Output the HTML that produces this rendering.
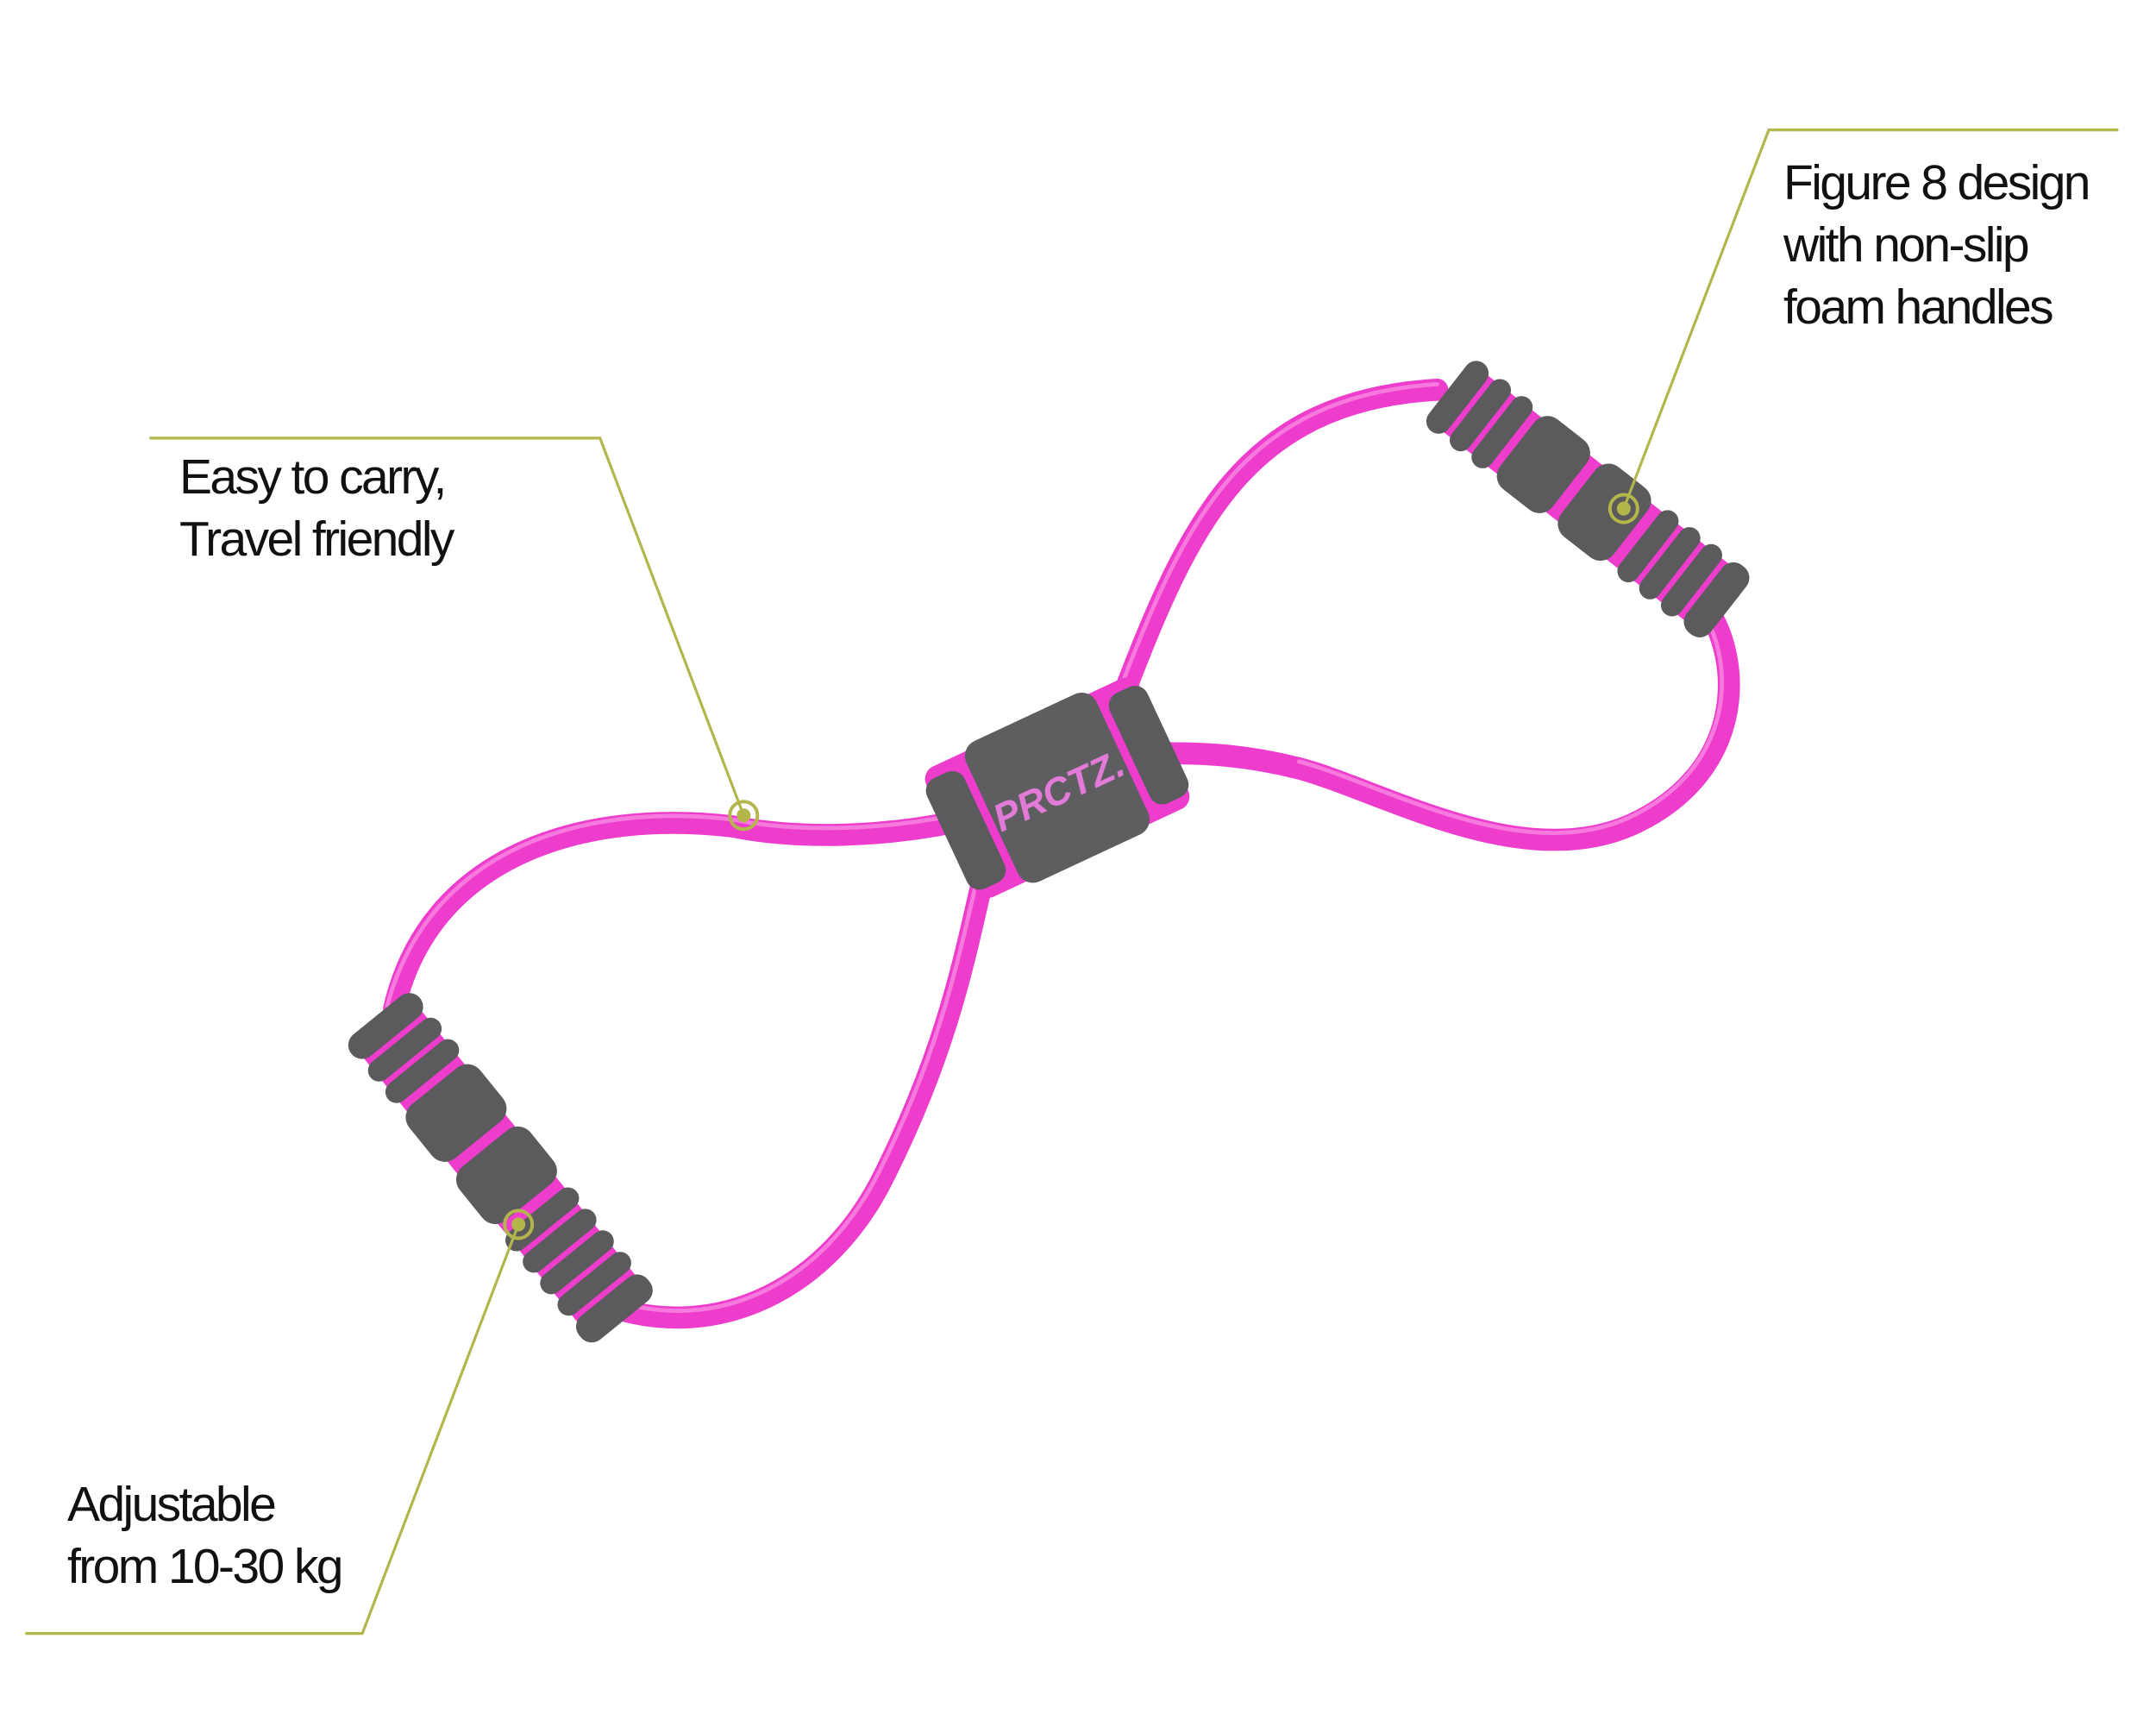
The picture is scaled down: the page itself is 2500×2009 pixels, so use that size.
<!DOCTYPE html>
<html><head><meta charset="utf-8"><style>
html,body{margin:0;padding:0;background:#fff}
.t{position:absolute;font-family:"Liberation Sans",sans-serif;font-size:57px;color:#111;line-height:72px;letter-spacing:-2.6px;white-space:nowrap}
</style></head><body>
<div style="position:relative;width:2500px;height:2009px;overflow:hidden;background:#fff">
<svg width="2500" height="2009" viewBox="0 0 1560 1254" style="position:absolute;left:0;top:0">
<g fill="none" stroke-linecap="round">
 <g stroke="#ee3ccc" stroke-width="16">
  <path d="M812 505 C860 380 900 290 1040 282"/>
  <path d="M1235 440 C1262 480 1262 560 1180 597 C1100 632 1000 572 940 556 C900 546 870 545 845 545"/>
  <path d="M690 595 C640 605 580 608 530 598 C420 585 310 620 285 730"/>
  <path d="M440 945 C520 972 600 932 640 850 C690 750 700 680 715 620"/>
 </g>
 <g stroke="#f78ae2" stroke-width="3" opacity="0.8">
  <path d="M809 502 C857 378 898 287 1040 278"/>
  <path d="M1232 443 C1256 480 1256 556 1178 592 C1100 627 1000 567 940 551"/>
  <path d="M690 590 C640 600 580 603 530 593 C420 580 310 615 280 728"/>
  <path d="M440 940 C520 967 596 928 636 848 C686 748 696 678 711 620"/>
 </g>
</g>
<!-- upper right handle -->
<g transform="translate(1150,362) rotate(38)">
 <rect x="-128" y="-26" width="256" height="52" rx="14" fill="#ee3ccc"/>
 <g fill="#5b5b5e">
  <rect x="-130" y="-31" width="18" height="62" rx="9"/>
  <rect x="-108" y="-31" width="16" height="62" rx="8"/>
  <rect x="-88" y="-31" width="16" height="62" rx="8"/>
  <rect x="-66" y="-32" width="48" height="64" rx="12"/>
  <rect x="-10" y="-32" width="48" height="64" rx="12"/>
  <rect x="46" y="-31" width="16" height="62" rx="8"/>
  <rect x="66" y="-31" width="16" height="62" rx="8"/>
  <rect x="86" y="-31" width="16" height="62" rx="8"/>
  <rect x="106" y="-31" width="22" height="62" rx="10"/>
 </g>
</g>
<!-- lower left handle -->
<g transform="translate(362,845) rotate(51)">
 <rect x="-140" y="-27" width="280" height="54" rx="14" fill="#ee3ccc"/>
 <g fill="#5b5b5e">
  <rect x="-142" y="-32" width="20" height="64" rx="10"/>
  <rect x="-118" y="-32" width="16" height="64" rx="8"/>
  <rect x="-98" y="-32" width="16" height="64" rx="8"/>
  <rect x="-76" y="-33" width="50" height="66" rx="12"/>
  <rect x="-18" y="-33" width="50" height="66" rx="12"/>
  <rect x="40" y="-32" width="16" height="64" rx="8"/>
  <rect x="60" y="-32" width="16" height="64" rx="8"/>
  <rect x="80" y="-32" width="16" height="64" rx="8"/>
  <rect x="100" y="-32" width="16" height="64" rx="8"/>
  <rect x="120" y="-32" width="22" height="64" rx="10"/>
 </g>
</g>
<!-- center block -->
<g transform="translate(765,570) rotate(-25)">
 <rect x="-85" y="-52" width="170" height="104" rx="10" fill="#ee3ccc"/>
 <rect x="-88" y="-44" width="30" height="88" rx="10" fill="#5b5b5e"/>
 <rect x="58" y="-44" width="30" height="88" rx="10" fill="#5b5b5e"/>
 <rect x="-52" y="-56" width="104" height="112" rx="12" fill="#5e5e60"/>
 <text x="0" y="12" text-anchor="middle" font-family="Liberation Sans,sans-serif" font-weight="bold" font-style="italic" font-size="28" fill="#e27ad8">PRCTZ.</text>
</g>
<!-- callout lines -->
<g stroke="#b3b64a" stroke-width="2" fill="none">
 <polyline points="1533,94 1280,94 1175,368"/>
 <polyline points="108,317 434,317 538,590"/>
 <polyline points="18,1182 262,1182 375,886"/>
</g>
<g>
 <circle cx="1175" cy="368" r="10" fill="none" stroke="#b3b64a" stroke-width="2.5"/><circle cx="1175" cy="368" r="5" fill="#b3b64a"/>
 <circle cx="538" cy="590" r="10" fill="none" stroke="#b3b64a" stroke-width="2.5"/><circle cx="538" cy="590" r="5" fill="#b3b64a"/>
 <circle cx="375" cy="886" r="10" fill="none" stroke="#b3b64a" stroke-width="2.5"/><circle cx="375" cy="886" r="5" fill="#b3b64a"/>
</g>
</svg>
<div class="t" style="left:2068px;top:176px">Figure 8 design<br>with non-slip<br>foam handles</div>
<div class="t" style="left:208px;top:517px">Easy to carry,<br>Travel friendly</div>
<div class="t" style="left:78px;top:1708px">Adjustable<br>from 10-30 kg</div>
</div>
</body></html>
